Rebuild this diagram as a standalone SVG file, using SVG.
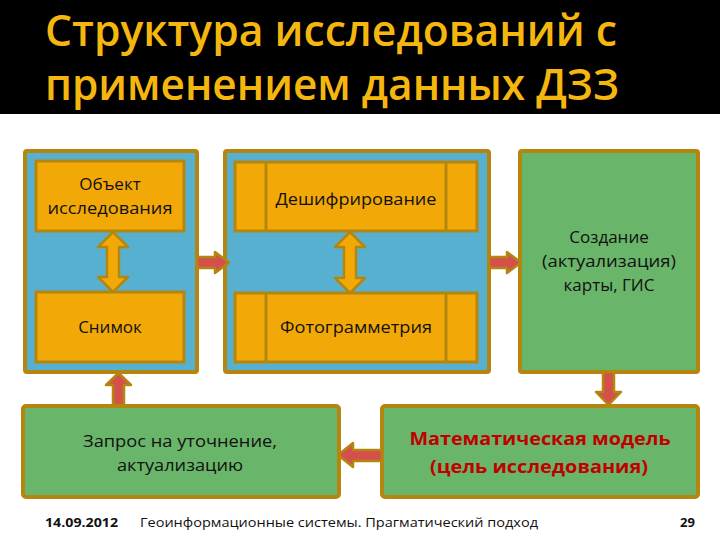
<svg xmlns="http://www.w3.org/2000/svg" width="720" height="540" viewBox="0 0 720 540">
<style>
.title{font-family:"Open Sans","Noto Sans",sans-serif;font-weight:600;font-size:44px;fill:#F5B70F}
.t{font-family:"Open Sans","Noto Sans",sans-serif;font-size:17px;fill:#111;text-anchor:middle}
.red{font-family:"Open Sans","Noto Sans",sans-serif;font-size:18px;font-weight:700;fill:#C00000;text-anchor:middle}
.foot{font-family:"Open Sans","Noto Sans",sans-serif;font-size:13px;fill:#111}
.cont{fill:#58B0D0;stroke:#B5860F;stroke-width:4}
.inner{fill:#F2A908;stroke:#B5860F;stroke-width:3}
.div{stroke:#B5860F;stroke-width:3}
.green{fill:#69B569;stroke:#B5860F;stroke-width:4}
.dbl{fill:#F2A908;stroke:#B5860F;stroke-width:2.5;stroke-linejoin:round}
.arr{fill:#D4504C;stroke:#B5860F;stroke-width:2.5;stroke-linejoin:round}
</style>
<rect x="0" y="0" width="720" height="540" fill="#FFFFFF"/>
<rect x="0" y="0" width="720" height="114" fill="#000000"/>
<g id="title">
<text class="title" x="45" y="46" textLength="572" lengthAdjust="spacingAndGlyphs">Структура исследований с</text>
<text class="title" x="45" y="100" textLength="574" lengthAdjust="spacingAndGlyphs">применением данных ДЗЗ</text>
</g>
<g id="left-container">
<rect class="cont" x="25" y="151" width="172" height="221" rx="2"/>
</g>
<g id="object">
<rect class="inner" x="36" y="161" width="148" height="70"/>
<text class="t" x="110" y="190">Объект</text>
<text class="t" x="110" y="214" textLength="125" lengthAdjust="spacingAndGlyphs">исследования</text>
</g>
<g id="snimok">
<rect class="inner" x="36" y="292" width="148" height="70"/>
<text class="t" x="110" y="333">Снимок</text>
</g>
<g id="mid-container">
<rect class="cont" x="225" y="151" width="264" height="221" rx="2"/>
</g>
<g id="deshifr">
<rect class="inner" x="235" y="162" width="242" height="69"/>
<line class="div" x1="266" y1="162" x2="266" y2="231"/>
<line class="div" x1="446" y1="162" x2="446" y2="231"/>
<text class="t" x="356" y="205" textLength="161" lengthAdjust="spacingAndGlyphs">Дешифрирование</text>
</g>
<g id="photogram">
<rect class="inner" x="235" y="293" width="242" height="69"/>
<line class="div" x1="266" y1="293" x2="266" y2="362"/>
<line class="div" x1="446" y1="293" x2="446" y2="362"/>
<text class="t" x="356" y="333" textLength="152" lengthAdjust="spacingAndGlyphs">Фотограмметрия</text>
</g>
<g id="gis">
<rect class="green" x="520" y="151" width="178" height="221" rx="2"/>
<text class="t" x="609" y="243">Создание</text>
<text class="t" x="609" y="267" textLength="134" lengthAdjust="spacingAndGlyphs">(актуализация)</text>
<text class="t" x="609" y="291">карты, ГИС</text>
</g>
<g id="zapros">
<rect class="green" x="23" y="406" width="316" height="91" rx="3"/>
<text class="t" x="180" y="447" textLength="194" lengthAdjust="spacingAndGlyphs">Запрос на уточнение,</text>
<text class="t" x="180" y="471" textLength="126" lengthAdjust="spacingAndGlyphs">актуализацию</text>
</g>
<g id="model">
<rect class="green" x="382" y="406" width="316" height="91" rx="3"/>
<text class="red" x="540" y="445" textLength="261" lengthAdjust="spacingAndGlyphs">Математическая модель</text>
<text class="red" x="539" y="473" textLength="218" lengthAdjust="spacingAndGlyphs">(цель исследования)</text>
</g>
<g id="connectors">
<polygon class="dbl" points="113,232 128,247 119,247 119,277 128,277 113,292 98,277 107,277 107,247 98,247"/>
<polygon class="dbl" points="350,232 365,247 356,247 356,278 365,278 350,293 335,278 344,278 344,247 335,247"/>
<polygon class="arr" points="197,257 215,257 215,252 229,262.5 215,273 215,268 197,268"/>
<polygon class="arr" points="489,257 507,257 507,252 521,262.5 507,273 507,268 489,268"/>
<polygon class="arr" points="113,405 113,385 106,385 118.5,373 131,385 124,385 124,405"/>
<polygon class="arr" points="603,372 614,372 614,392 621,392 608.5,405 596,392 603,392"/>
<polygon class="arr" points="382,450 353,450 353,443 338,455 353,467 353,461 382,461"/>
</g>
<g id="footer">
<text class="foot" x="45" y="527" font-weight="700" textLength="73" lengthAdjust="spacingAndGlyphs">14.09.2012</text>
<text class="foot" x="140" y="527" textLength="398" lengthAdjust="spacingAndGlyphs">Геоинформационные системы. Прагматический подход</text>
<text class="foot" x="680" y="527" font-weight="700">29</text>
</g>
</svg>
